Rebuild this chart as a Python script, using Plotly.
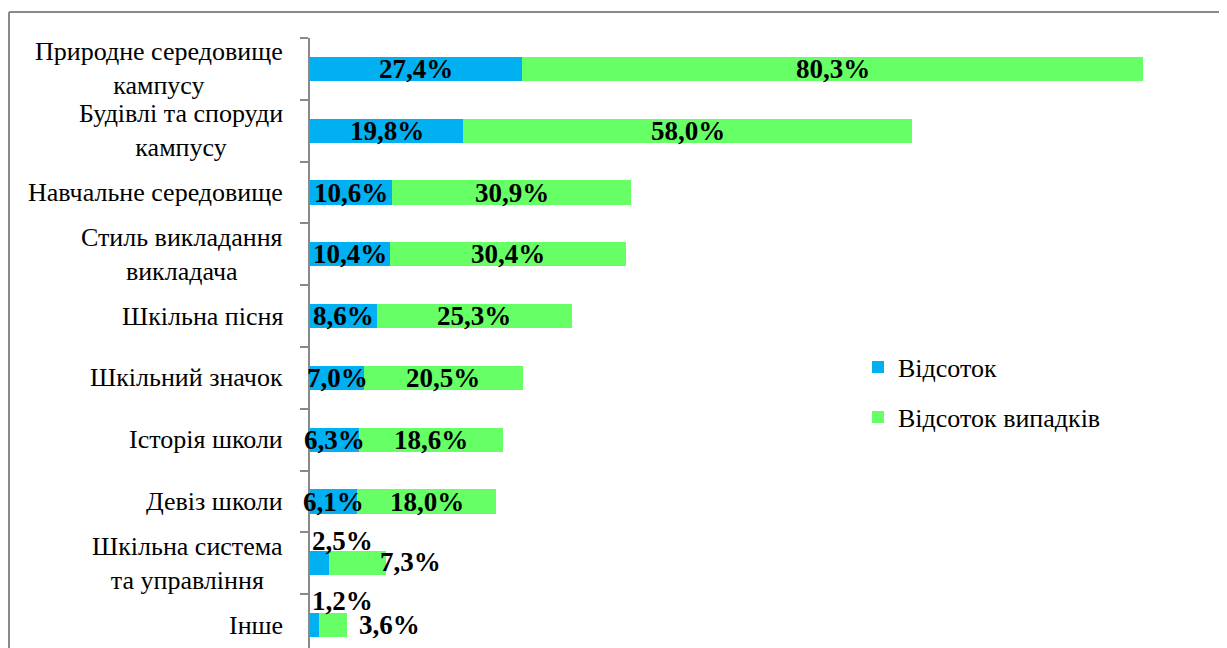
import plotly.graph_objects as go

# Data (top to bottom)
categories = [
    "Природне середовище<br>кампусу",
    "Будівлі та споруди<br>кампусу",
    "Навчальне середовище",
    "Стиль викладання<br>викладача",
    "Шкільна пісня",
    "Шкільний значок",
    "Історія школи",
    "Девіз школи",
    "Шкільна система<br>та управління",
    "Інше",
]
pct = [27.4, 19.8, 10.6, 10.4, 8.6, 7.0, 6.3, 6.1, 2.5, 1.2]
pct_cases = [80.3, 58.0, 30.9, 30.4, 25.3, 20.5, 18.6, 18.0, 7.3, 3.6]
series_names = ["Відсоток", "Відсоток випадків"]

BLUE = "#00B0F0"
GREEN = "#66FF66"
GRAY = "#898989"
FONT = "Liberation Serif"

# page has an 8px body margin, so the figure is laid out 8px in from the corner
OFF = 8
W, H = 1227 - OFF, 648 - OFF
ML, MR, MT, MB = 310 - OFF, 66, 38 - OFF, 0
PW, PH = W - ML - MR, H - MT - MB


def fmt(v):
    return f"{v:.1f}".replace(".", ",") + "%"


fig = go.Figure()
fig.add_trace(go.Bar(
    y=categories, x=pct, orientation="h", name=series_names[0],
    marker=dict(color=BLUE, line=dict(width=0)), legend="legend",
    hoverinfo="skip",
))
fig.add_trace(go.Bar(
    y=categories, x=pct_cases, orientation="h", name=series_names[1],
    marker=dict(color=GREEN, line=dict(width=0)), legend="legend2",
    hoverinfo="skip",
))

# manually placed labels for the two smallest rows (as in the original)
small_offsets = {
    8: ((0, 22), (-8, 1)),
    9: ((0, 24), (10, 0)),
}

annotations = []
lbl_font = dict(family=FONT, size=27, color="black")
for i, cat in enumerate(categories):
    a, b = pct[i], pct_cases[i]
    if i in small_offsets:
        (bx, by), (gx, gy) = small_offsets[i]
        annotations.append(dict(x=0, y=cat, text="<b>%s</b>" % fmt(a), showarrow=False,
                                xanchor="left", xshift=bx, yshift=by, font=lbl_font))
        annotations.append(dict(x=a + b, y=cat, text="<b>%s</b>" % fmt(b), showarrow=False,
                                xanchor="left", xshift=gx, yshift=gy, font=lbl_font))
    else:
        annotations.append(dict(x=a / 2, y=cat, text="<b>%s</b>" % fmt(a), showarrow=False,
                                xanchor="center", font=lbl_font))
        annotations.append(dict(x=a + b / 2, y=cat, text="<b>%s</b>" % fmt(b), showarrow=False,
                                xanchor="center", font=lbl_font))
    # category label, centred lines
    annotations.append(dict(x=0, xref="paper", y=cat, text=cat, showarrow=False,
                            xanchor="right", align="center", xshift=-25,
                            font=dict(family=FONT, size=26, color="black")))

# chart border (top and left edges visible)
bx0 = (9 - OFF - ML) / PW
by1 = (H - (12 - OFF)) / PH
shapes = [
    dict(type="line", xref="paper", yref="paper", x0=bx0, x1=(W + 5 - ML) / PW,
         y0=by1, y1=by1, line=dict(color=GRAY, width=2)),
    dict(type="line", xref="paper", yref="paper", x0=bx0, x1=bx0,
         y0=-0.1, y1=by1, line=dict(color=GRAY, width=2)),
]

leg_x = (858 - OFF - ML) / PW
fig.update_layout(
    width=W, height=H,
    margin=dict(l=ML, r=MR, t=MT, b=MB),
    barmode="stack",
    bargap=0.61,
    plot_bgcolor="white",
    paper_bgcolor="white",
    font=dict(family=FONT, size=26, color="black"),
    xaxis=dict(range=[0, 110], visible=False),
    yaxis=dict(
        type="category",
        categoryorder="array", categoryarray=categories,
        range=[9.37, -0.5],
        showticklabels=False,
        showline=True, linecolor=GRAY, linewidth=1.5,
        ticks="outside", tickson="boundaries", ticklen=8, tickcolor=GRAY, tickwidth=1.5,
        showgrid=False, zeroline=False,
    ),
    legend=dict(x=leg_x, y=(H - (367 - OFF)) / PH, xanchor="left", yanchor="middle",
                font=dict(family=FONT, size=26), bgcolor="rgba(0,0,0,0)"),
    legend2=dict(x=leg_x, y=(H - (417 - OFF)) / PH, xanchor="left", yanchor="middle",
                 font=dict(family=FONT, size=26), bgcolor="rgba(0,0,0,0)"),
    annotations=annotations,
    shapes=shapes,
    showlegend=True,
)

fig.write_html("out.html", config={"displayModeBar": False})
